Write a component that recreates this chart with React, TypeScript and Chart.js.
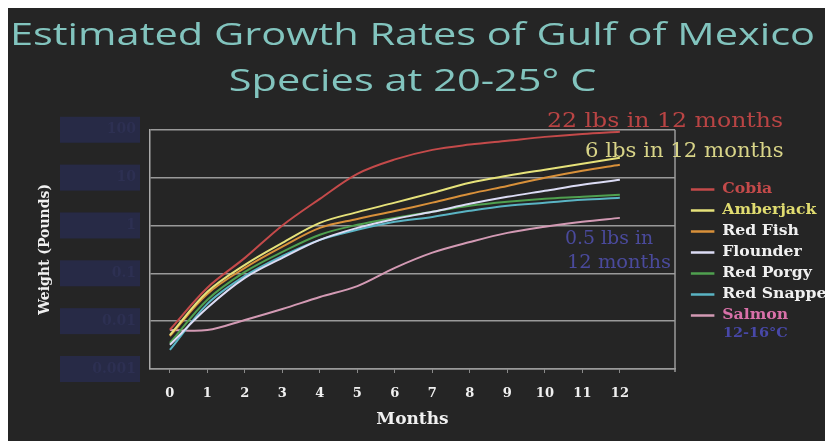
import React, { useEffect, useRef } from 'react';
import { Chart, registerables } from 'chart.js';

Chart.register(...registerables);

const months = [0, 1, 2, 3, 4, 5, 6, 7, 8, 9, 10, 11, 12];
const speciesNames = ['Cobia', 'Amberjack', 'Red Fish', 'Flounder', 'Red Porgy', 'Red Snapper', 'Salmon'];
const cobia = [0.0066, 0.05, 0.21, 1.0, 3.6, 12, 24, 38, 49, 59, 71, 82, 91];
const amberjack = [0.0051, 0.041, 0.15, 0.43, 1.13, 1.9, 3.0, 4.8, 7.8, 10.9, 14.6, 19.4, 26];
const redFish = [0.0049, 0.037, 0.13, 0.36, 0.89, 1.37, 2.0, 3.0, 4.6, 6.7, 9.9, 13.9, 18.5];
const flounder = [0.0032, 0.019, 0.08, 0.21, 0.5, 0.89, 1.37, 1.93, 2.83, 3.96, 5.3, 7.1, 9.0];
const redPorgy = [0.0035, 0.028, 0.107, 0.28, 0.64, 1.03, 1.44, 1.93, 2.57, 3.12, 3.6, 3.96, 4.4];
const redSnapper = [0.0025, 0.023, 0.088, 0.23, 0.5, 0.81, 1.19, 1.51, 2.02, 2.57, 2.97, 3.43, 3.78];
const salmon = [0.0065, 0.0065, 0.0106, 0.018, 0.032, 0.054, 0.13, 0.27, 0.45, 0.7, 0.94, 1.19, 1.44];
const seriesValues = [cobia, amberjack, redFish, flounder, redPorgy, redSnapper, salmon];
const lineColors = ['#c44a4a', '#e6e27a', '#d8903a', '#dcdcf5', '#4fa04f', '#5ab4c4', '#d39ab4'];
const legendTextColors = ['#c44a4a', '#e0dc70', '#f0f0f0', '#f0f0f0', '#f0f0f0', '#f0f0f0', '#d870a8'];

const yTickValues = [0.001, 0.01, 0.1, 1, 10, 100];
const yTickLabels = ['0.001', '0.01', '0.1', '1', '10', '100'];
const titleLines = ['Estimated Growth Rates of Gulf of Mexico', 'Species at 20-25° C'];
const yAxisTitle = 'Weight (Pounds)';
const xAxisTitle = 'Months';
const noteCobia = '22 lbs in 12 months';
const noteAmberjack = '6 lbs in 12 months';
const noteSalmon = ['0.5 lbs in', '12 months'];
const noteSalmonTemp = '12-16°C';

const SERIF = '"DejaVu Serif", serif';

function stretchDraw(obj: any, sx: number, anchor: (o: any) => number) {
  if (!obj) return;
  const orig = obj.draw;
  obj.draw = function (...args: any[]) {
    const ctx = this.ctx;
    const cx = anchor(this);
    ctx.save();
    ctx.translate(cx, 0);
    ctx.scale(sx, 1);
    ctx.translate(-cx, 0);
    orig.apply(this, args);
    ctx.restore();
  };
}

function stretchedText(ctx: any, text: string, x: number, y: number, sx: number) {
  ctx.save();
  ctx.translate(x, y);
  ctx.scale(sx, 1);
  ctx.fillText(text, 0, 0);
  ctx.restore();
}

const decorPlugin = {
  id: 'decor',
  beforeInit(chart: any) {
    const legend = chart.legend;
    if (legend) {
      const origFit = legend.fit;
      legend.fit = function () {
        origFit.call(this);
        this.width = 142;
      };
      stretchDraw(legend, 1.12, (o: any) => o.left + 8);
    }
    stretchDraw(chart.titleBlock, 1.34, (o: any) => (o.left + o.right) / 2);
  },
  beforeDraw(chart: any) {
    const { ctx, width, height, chartArea } = chart;
    ctx.save();
    ctx.fillStyle = '#252525';
    ctx.fillRect(0, 0, width, height);
    const ys = chart.scales.y;
    ctx.fillStyle = '#272a46';
    ys.ticks.forEach((t: any) => {
      const py = ys.getPixelForValue(t.value);
      ctx.fillRect(52, py - 13, 80, 26);
    });
    ctx.restore();
    if (chart.legend) {
      chart.legend.left = 676;
      chart.legend.top = chartArea.top + 3;
      chart.legend.bottom = chartArea.bottom + 3;
    }
  },
  afterDraw(chart: any) {
    const { ctx, chartArea } = chart;
    ctx.save();
    ctx.strokeStyle = '#9a9a9a';
    ctx.lineWidth = 1.5;
    ctx.beginPath();
    ctx.moveTo(chartArea.right, chartArea.top);
    ctx.lineTo(chartArea.right, chartArea.bottom + 3);
    ctx.stroke();

    ctx.textBaseline = 'middle';
    ctx.textAlign = 'left';
    ctx.font = '20px ' + SERIF;
    ctx.fillStyle = '#b94444';
    stretchedText(ctx, noteCobia, 539, 114, 1.18);
    ctx.fillStyle = '#d8d488';
    stretchedText(ctx, noteAmberjack, 577, 144, 1.06);
    ctx.font = '18px ' + SERIF;
    ctx.fillStyle = '#4a4a9c';
    stretchedText(ctx, noteSalmon[0], 557, 231, 1.05);
    stretchedText(ctx, noteSalmon[1], 559, 255, 1.08);
    ctx.font = 'bold 12px ' + SERIF;
    ctx.fillStyle = '#4848a8';
    stretchedText(ctx, noteSalmonTemp, 715, 326, 1.2);
    ctx.restore();
  },
};

export default function App() {
  const ref = useRef<HTMLCanvasElement>(null);
  useEffect(() => {
    if (!ref.current) return;
    const chart = new Chart(ref.current, {
      type: 'line',
      data: {
        datasets: speciesNames.map((name, i) => ({
          label: name,
          data: months.map((m, j) => ({ x: m, y: seriesValues[i][j] })),
          borderColor: lineColors[i],
          backgroundColor: lineColors[i],
          borderWidth: 2,
          pointRadius: 0,
          tension: 0.35,
          fill: false,
        })),
      },
      options: {
        responsive: false,
        animation: false,
        layout: { padding: { left: 0, right: 8, top: 0, bottom: 0 } },
        plugins: {
          title: {
            display: true,
            text: titleLines,
            color: '#82c4be',
            font: { family: '"Open Sans", sans-serif', size: 31, weight: 'normal', lineHeight: 1.48 },
            padding: { top: 5, bottom: 25 },
          },
          legend: {
            display: true,
            position: 'right',
            align: 'center',
            fullSize: false,
            labels: {
              usePointStyle: true,
              pointStyle: 'line',
              pointStyleWidth: 21,
              padding: 7,
              font: { family: SERIF, size: 14, weight: 'bold' },
              generateLabels: (c: any) => {
                const items = Chart.defaults.plugins.legend.labels.generateLabels(c);
                return items.map((it: any, i: number) => ({ ...it, fontColor: legendTextColors[i], pointStyle: 'line', lineWidth: 2.5 }));
              },
            },
          },
          tooltip: { enabled: false },
        },
        scales: {
          x: {
            type: 'linear',
            min: -0.53,
            max: 13.47,
            afterBuildTicks: (s: any) => {
              s.ticks = months.map((m) => ({ value: m }));
            },
            afterFit: (s: any) => {
              s.height = 72;
            },
            grid: { display: true, drawOnChartArea: false, drawTicks: true, tickLength: 4, color: '#8a8a8a' },
            border: { display: true, color: '#9a9a9a', width: 1.5 },
            ticks: {
              color: '#f0f0f0',
              padding: 13,
              maxRotation: 0,
              autoSkip: false,
              font: { family: SERIF, size: 13, weight: 'bold' },
              callback: (v: any) => String(v),
            },
            title: {
              display: true,
              text: xAxisTitle,
              color: '#f0f0f0',
              font: { family: SERIF, size: 17, weight: 'bold' },
              padding: { top: 0, bottom: 11 },
            },
          },
          y: {
            type: 'logarithmic',
            min: 0.001,
            max: 100,
            afterBuildTicks: (s: any) => {
              s.ticks = yTickValues.map((v) => ({ value: v }));
            },
            afterFit: (s: any) => {
              s.width = 142;
            },
            grid: { color: '#9a9a9a', lineWidth: 1.5, drawTicks: false },
            border: { display: true, color: '#aaaaaa', width: 1.5 },
            ticks: {
              color: '#2d3052',
              padding: 14,
              autoSkip: false,
              font: { family: SERIF, size: 14, weight: 'bold' },
              callback: (v: any) => {
                const idx = yTickValues.indexOf(Number(v));
                return idx >= 0 ? yTickLabels[idx] : '';
              },
            },
            title: {
              display: true,
              text: yAxisTitle,
              color: '#f0f0f0',
              font: { family: SERIF, size: 14, weight: 'bold' },
              padding: { top: 29, bottom: 0 },
            },
          },
        },
      },
      plugins: [decorPlugin],
    } as any);
    return () => chart.destroy();
  }, []);
  return (
    <div style={{ position: 'fixed', left: 8, top: 8, width: 817, height: 433 }}>
      <canvas ref={ref} width={817} height={433} />
    </div>
  );
}
